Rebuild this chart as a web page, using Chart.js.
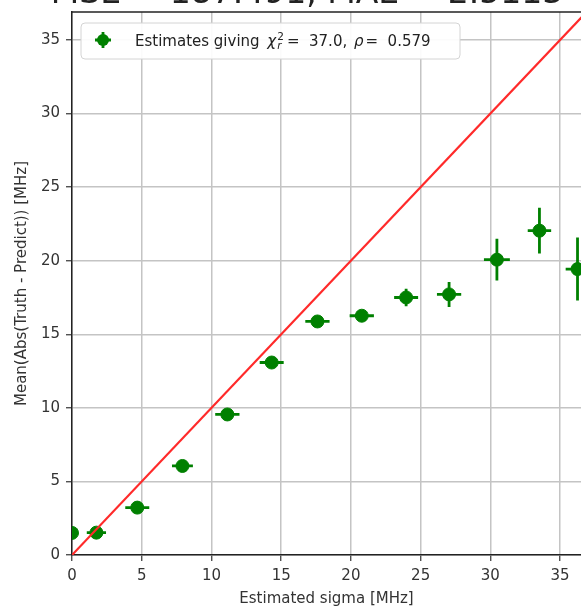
<!DOCTYPE html>
<html lang="en">
<head>
  <meta charset="UTF-8" />
  <title>Estimated sigma vs mean absolute error</title>
  <script src="https://cdn.jsdelivr.net/npm/chart.js"></script>
  <style>
    html, body { margin: 0; padding: 0; background: #fff; }
    canvas { display: block; }
  </style>
</head>
<body>
  <canvas id="sigmaChart" width="581" height="608"></canvas>

  <script>
    // binned estimates: predicted sigma vs mean |truth - predict|
    const sigmaEst = [0, 1.75, 4.68, 7.92, 11.14, 14.32, 17.6, 20.78, 23.96, 27.04, 30.47, 33.52, 36.25];
    const meanAbsErr = [1.5, 1.52, 3.22, 6.05, 9.55, 13.08, 15.87, 16.26, 17.5, 17.71, 20.07, 22.04, 19.43];
    const sigmaErr = [0.4, 0.69, 0.86, 0.75, 0.87, 0.86, 0.87, 0.87, 0.86, 0.87, 0.93, 0.84, 0.85];
    const meanErr = [0.1, 0.15, 0.15, 0.2, 0.2, 0.25, 0.3, 0.3, 0.59, 0.85, 1.42, 1.55, 2.14];
    const xTicks = [0, 5, 10, 15, 20, 25, 30, 35];
    const yTicks = [0, 5, 10, 15, 20, 25, 30, 35];
    const diagonal = [0, 40];

    const titleText = "MSE = 187.491, MAE = 2.5113";
    const FONT = "'DejaVu Sans', sans-serif";
    const GREEN = "#008000";

    // error bars under the markers
    const errorBars = {
      id: "errorBars",
      beforeDatasetsDraw(chart) {
        const { ctx, chartArea: a, scales: { x, y } } = chart;
        ctx.save();
        ctx.beginPath();
        ctx.rect(a.left, a.top, a.right - a.left, a.bottom - a.top);
        ctx.clip();
        ctx.strokeStyle = GREEN;
        ctx.lineWidth = 2.8;
        sigmaEst.forEach((sx, i) => {
          const px = x.getPixelForValue(sx);
          const py = y.getPixelForValue(meanAbsErr[i]);
          ctx.beginPath();
          ctx.moveTo(x.getPixelForValue(sx - sigmaErr[i]), py);
          ctx.lineTo(x.getPixelForValue(sx + sigmaErr[i]), py);
          ctx.moveTo(px, y.getPixelForValue(meanAbsErr[i] - meanErr[i]));
          ctx.lineTo(px, y.getPixelForValue(meanAbsErr[i] + meanErr[i]));
          ctx.stroke();
        });
        ctx.restore();
      }
    };

    // top spine, clipped title and the legend box
    const decorations = {
      id: "decorations",
      afterDraw(chart) {
        const { ctx, chartArea: a } = chart;
        ctx.save();
        ctx.strokeStyle = "#222";
        ctx.lineWidth = 1.5;
        ctx.beginPath();
        ctx.moveTo(a.left, a.top);
        ctx.lineTo(a.right, a.top);
        ctx.stroke();

        ctx.fillStyle = "#222";
        ctx.font = "33px " + FONT;
        ctx.textAlign = "center";
        ctx.textBaseline = "alphabetic";
        ctx.fillText(titleText, 307, 3);

        // legend
        const bx = 81, by = 23, bw = 379, bh = 36;
        ctx.beginPath();
        ctx.roundRect(bx, by, bw, bh, 4);
        ctx.fillStyle = "rgba(255,255,255,0.92)";
        ctx.fill();
        ctx.strokeStyle = "#d4d4d4";
        ctx.lineWidth = 1;
        ctx.stroke();

        const mx = 103, my = 40;
        ctx.strokeStyle = GREEN;
        ctx.lineWidth = 2.8;
        ctx.beginPath();
        ctx.moveTo(mx - 8, my); ctx.lineTo(mx + 8, my);
        ctx.moveTo(mx, my - 8); ctx.lineTo(mx, my + 8);
        ctx.stroke();
        ctx.fillStyle = GREEN;
        ctx.beginPath();
        ctx.arc(mx, my, 6, 0, Math.PI * 2);
        ctx.fill();

        ctx.fillStyle = "#222";
        ctx.textAlign = "left";
        const base = 46;
        let tx = 135;
        const put = (s, font, dy = 0, advance = true) => {
          ctx.font = font;
          ctx.fillText(s, tx, base + dy);
          const w = ctx.measureText(s).width;
          if (advance) tx += w;
          return w;
        };
        put("Estimates giving ", "15px " + FONT);
        tx += 3;
        put("χ", "italic 15px " + FONT);
        tx += 1;
        const w2 = put("2", "10.5px " + FONT, -6, false);
        const wr = put("r", "italic 10.5px " + FONT, 3, false);
        tx += Math.max(w2, wr) + 3;
        put("=  37.0, ", "15px " + FONT);
        tx += 2;
        put("ρ", "italic 15px " + FONT);
        tx += 2;
        put("=  0.579", "15px " + FONT);
        ctx.restore();
      }
    };

    const axisStyle = (ticks, max, label, isX) => ({
      type: "linear",
      min: 0,
      max: max,
      afterBuildTicks: s => { s.ticks = ticks.map(v => ({ value: v })); },
      afterFit: s => {
        if (isX) s.height = 53; else s.width = 72;
        s.paddingLeft = s.paddingRight = s.paddingTop = s.paddingBottom = 0;
      },
      grid: { color: "#c4c4c4", lineWidth: 1.5, tickLength: 6, tickColor: "#333", tickWidth: 1.2 },
      border: { color: "#222", width: 1.5 },
      ticks: { font: { family: FONT, size: 15 }, color: "#333", padding: 6, maxRotation: 0, autoSkip: false },
      title: {
        display: true,
        text: label,
        color: "#333",
        font: { family: FONT, size: 15 },
        padding: isX ? { top: 1, bottom: 0 } : { top: 13, bottom: 0 }
      }
    });

    new Chart(document.getElementById("sigmaChart"), {
      type: "scatter",
      data: {
        datasets: [
          {
            type: "line",
            data: diagonal.map(v => ({ x: v, y: v })),
            borderColor: "#ff2a2a",
            borderWidth: 2.2,
            pointRadius: 0,
            order: 0,
            clip: 0
          },
          {
            label: "Estimates",
            data: sigmaEst.map((v, i) => ({ x: v, y: meanAbsErr[i] })),
            backgroundColor: GREEN,
            borderColor: GREEN,
            pointRadius: 6.5,
            order: 1,
            clip: 0
          }
        ]
      },
      options: {
        responsive: false,
        animation: false,
        devicePixelRatio: 1,
        layout: { autoPadding: false, padding: { top: 12, right: 0, left: 0, bottom: 0 } },
        plugins: { legend: { display: false }, tooltip: { enabled: false } },
        scales: {
          x: axisStyle(xTicks, 36.5, "Estimated sigma [MHz]", true),
          y: axisStyle(yTicks, 36.9, "Mean(Abs(Truth - Predict)) [MHz]", false)
        }
      },
      plugins: [errorBars, decorations]
    });
  </script>
</body>
</html>
